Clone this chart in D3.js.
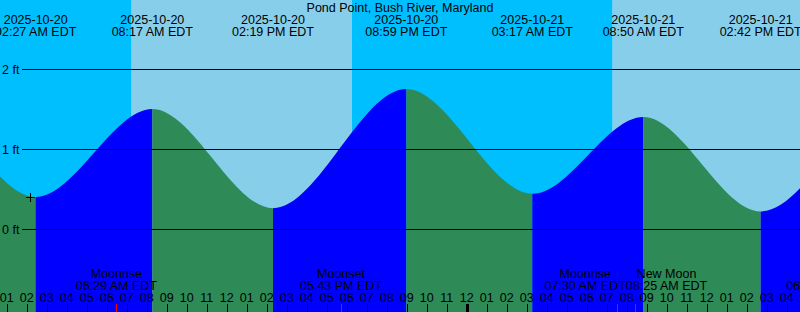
<!DOCTYPE html>
<html>
<head>
<meta charset="utf-8">
<script src="https://cdn.jsdelivr.net/npm/d3@7"></script>
<style>
  body { margin: 0; background: #fff; }
  svg { display: block; }
</style>
</head>
<body>
<div id="canvas"></div>
<script>
"use strict"

/* Data (local EDT times) */
let stationName = "Pond Point, Bush River, Maryland";

// tide extremes, first two and last two lie outside the window
let tideTimes  = ["2025-10-19 14:00", "2025-10-19 20:12", "2025-10-20 02:27", "2025-10-20 08:17",
                  "2025-10-20 14:19", "2025-10-20 20:59", "2025-10-21 03:17", "2025-10-21 08:50",
                  "2025-10-21 14:42", "2025-10-21 21:54", "2025-10-22 04:00"];
let tideLevels = [0.30, 1.70, 0.40, 1.50, 0.26, 1.75, 0.44, 1.40, 0.22, 1.80, 0.45];

// sunrise / sunset
let sunTimes = ["2025-10-19 18:17", "2025-10-20 07:15", "2025-10-20 18:16", "2025-10-21 07:18", "2025-10-21 18:15"];
let sunKinds = ["set", "rise", "set", "rise", "set"];

// moon events along the bottom
let moonTimes = ["2025-10-20 06:29", "2025-10-20 17:43", "2025-10-21 07:30", "2025-10-21 08:25", "2025-10-21 18:02"];
let moonNames = ["Moonrise", "Moonset", "Moonrise", "New Moon", "Moonset"];

let levelTicks = [0, 1, 2];
let nowTime = "2025-10-20 02:10";
let nowLevel = 0.40;

/* Drawing configuration */
let svgWidth = 800;
let svgHeight = 312;
let font = "'Liberation Sans', Arial, sans-serif";
let fontSize = "12.5px";

let nightColor = "#00bfff";
let dayColor = "#87ceeb";
let floodColor = "#0000ff";
let ebbColor = "#2e8b57";

let parse = d3.timeParse("%Y-%m-%d %H:%M");
let fmtDate = d3.timeFormat("%Y-%m-%d");
let fmtTime = d3.timeFormat("%I:%M %p EDT");
let fmtHour = d3.timeFormat("%I");

let tides = tideTimes.map(function (t, i) { return {t: parse(t), v: tideLevels[i]}; });

let svg = d3.select("#canvas")
    .append("svg")
    .attr("width", svgWidth)
    .attr("height", svgHeight)
    .style("font-family", font)
    .style("font-size", fontSize);

/* Scales: 20 px per hour, 80 px per foot */
let xScale = d3.scaleTime()
    .domain([parse("2025-10-20 00:40"), parse("2025-10-21 16:40")])
    .range([0, svgWidth]);

let yScale = d3.scaleLinear()
    .domain([0, 2])
    .range([229, 69]);

/* Sky: day / night bands */
for (let i = 0; i < sunTimes.length - 1; i = i + 1) {
  let x0 = xScale(parse(sunTimes[i]));
  let x1 = xScale(parse(sunTimes[i + 1]));
  svg.append("rect")
    .attr("x", x0)
    .attr("y", 0)
    .attr("width", x1 - x0)
    .attr("height", svgHeight)
    .attr("fill", sunKinds[i] === "rise" ? dayColor : nightColor);
}

/* Water: area under the tide curve, coloured flood / ebb */
let area = d3.area()
    .x(function (d) { return xScale(d.t); })
    .y0(svgHeight)
    .y1(function (d) { return yScale(d.v); })
    .curve(d3.curveMonotoneX);

svg.append("clipPath")
    .attr("id", "water")
    .append("path")
    .attr("d", area(tides));

let water = svg.append("g").attr("clip-path", "url(#water)");

for (let i = 0; i < tides.length - 1; i = i + 1) {
  let x0 = xScale(tides[i].t);
  let x1 = xScale(tides[i + 1].t);
  water.append("rect")
    .attr("x", x0)
    .attr("y", 0)
    .attr("width", x1 - x0)
    .attr("height", svgHeight)
    .attr("fill", tides[i + 1].v > tides[i].v ? floodColor : ebbColor);
}

/* Level lines */
svg.selectAll(".level")
  .data(levelTicks)
  .enter()
  .append("line")
  .attr("x1", 22)
  .attr("x2", svgWidth)
  .attr("y1", function (d) { return yScale(d) + 0.5; })
  .attr("y2", function (d) { return yScale(d) + 0.5; })
  .attr("stroke", "#000")
  .attr("stroke-width", 1);

svg.selectAll(".levelLabel")
  .data(levelTicks)
  .enter()
  .append("text")
  .attr("x", 2)
  .attr("y", function (d) { return yScale(d) + 5; })
  .text(function (d) { return d + " ft"; });

/* "now" marker */
let nx = Math.round(xScale(parse(nowTime))) + 0.5;
let ny = Math.round(yScale(nowLevel)) + 0.5;
svg.append("path")
  .attr("d", "M" + (nx - 4.5) + "," + ny + "H" + (nx + 4.5) + "M" + nx + "," + (ny - 4.5) + "V" + (ny + 4.5))
  .attr("stroke", "#000")
  .attr("fill", "none");

/* Title and high / low labels */
svg.append("text")
  .attr("x", svgWidth / 2)
  .attr("y", 12)
  .attr("text-anchor", "middle")
  .text(stationName);

let extremes = tides.filter(function (d) {
  let x = xScale(d.t);
  return x > -60 && x < svgWidth + 60;
});

svg.selectAll(".exDate")
  .data(extremes)
  .enter()
  .append("text")
  .attr("x", function (d) { return xScale(d.t); })
  .attr("y", 24)
  .attr("text-anchor", "middle")
  .text(function (d) { return fmtDate(d.t); });

svg.selectAll(".exTime")
  .data(extremes)
  .enter()
  .append("text")
  .attr("x", function (d) { return xScale(d.t); })
  .attr("y", 36)
  .attr("text-anchor", "middle")
  .text(function (d) { return fmtTime(d.t); });

/* Hour ticks and labels */
let hours = d3.timeHour.range(xScale.domain()[0], xScale.domain()[1]);

svg.selectAll(".hourTick")
  .data(hours)
  .enter()
  .append("line")
  .attr("x1", function (d) { return Math.round(xScale(d)) + 0.5; })
  .attr("x2", function (d) { return Math.round(xScale(d)) + 0.5; })
  .attr("y1", 304)
  .attr("y2", svgHeight)
  .attr("stroke", "#000")
  .attr("stroke-width", function (d) { return d.getHours() === 0 ? 3 : 1; });

svg.selectAll(".hourLabel")
  .data(hours)
  .enter()
  .append("text")
  .attr("x", function (d) { return xScale(d); })
  .attr("y", 302)
  .attr("text-anchor", "middle")
  .text(function (d) { return fmtHour(d); });

/* Moon events: red ticks, labels pushed apart where they would collide */
let moonLabels = [];
for (let i = 0; i < moonTimes.length; i = i + 1) {
  let t = parse(moonTimes[i]);
  let x = xScale(t);
  svg.append("line")
    .attr("x1", Math.round(x) + 0.5)
    .attr("x2", Math.round(x) + 0.5)
    .attr("y1", 304)
    .attr("y2", svgHeight)
    .attr("stroke", "#ff0000");
  let g = svg.append("g");
  let a = g.append("text")
    .attr("y", 278)
    .attr("text-anchor", "middle")
    .text(moonNames[i]);
  let b = g.append("text")
    .attr("y", 290)
    .attr("text-anchor", "middle")
    .text(fmtTime(t));
  let w = Math.max(a.node().getComputedTextLength(), b.node().getComputedTextLength());
  moonLabels.push({g: g, x: x, w: w});
}

for (let i = 0; i < moonLabels.length - 1; i = i + 1) {
  let l = moonLabels[i];
  let r = moonLabels[i + 1];
  let overlap = (l.x + l.w / 2) - (r.x - r.w / 2);
  if (overlap > 0) {
    l.x = l.x - overlap / 2;
    r.x = r.x + overlap / 2;
  }
}

moonLabels.forEach(function (d) {
  d.g.attr("transform", "translate(" + d.x + ",0)");
});
</script>
</body>
</html>
